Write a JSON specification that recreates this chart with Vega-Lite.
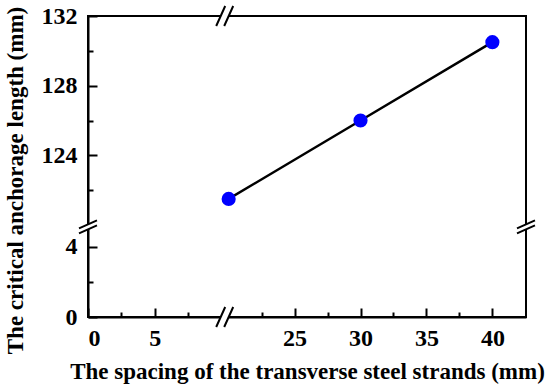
{
  "$schema": "https://vega.github.io/schema/vega-lite/v6.json",
  "width": 438,
  "height": 301,
  "autosize": "none",
  "padding": {"left": 88, "top": 16, "right": 24, "bottom": 74},
  "config": {
    "view": {"stroke": "black", "strokeWidth": 2},
    "axis": {
      "grid": false,
      "domainColor": "black",
      "domainWidth": 2,
      "tickColor": "black",
      "tickWidth": 2,
      "labelFont": "Liberation Serif",
      "labelFontWeight": "bold",
      "labelFontSize": 24,
      "labelColor": "black",
      "titleFont": "Liberation Serif",
      "titleFontWeight": "bold",
      "titleFontSize": 23,
      "titleColor": "black"
    }
  },
  "datasets": {
    "pts": [
      {"spacing": 20, "length": 121.5},
      {"spacing": 30, "length": 126.0},
      {"spacing": 40, "length": 130.5}
    ],
    "hbreaks": [{"bx": 15, "by": 0}, {"bx": 15, "by": 132}],
    "vbreaks": [{"bx": 0, "by": 60}, {"bx": 42.55, "by": 60}]
  },
  "resolve": {"axis": {"x": "independent", "y": "independent"}},
  "layer": [
    {
      "data": {"name": "pts"},
      "mark": {"type": "line", "color": "black", "strokeWidth": 2.5},
      "encoding": {
        "x": {
          "field": "spacing", "type": "quantitative",
          "scale": {"domain": [0, 10.25, 19.7, 42.55], "range": [0, 136.7, 136.7, 438], "nice": false, "zero": false},
          "axis": {"orient": "bottom", "values": [0, 5, 25, 30, 35, 40], "tickSize": -9, "labelPadding": 18, "title": "The spacing of the transverse steel strands (mm)", "titlePadding": 10}
        },
        "y": {
          "field": "length", "type": "quantitative",
          "scale": {"domain": [0, 5.15, 119.9, 132], "range": [301, 210.8, 210.8, 0], "nice": false, "zero": false},
          "axis": {"orient": "left", "values": [0, 4, 124, 128, 132], "tickSize": -9, "labelPadding": 20, "title": "The critical anchorage length (mm)", "titlePadding": 14, "titleY": 164}
        }
      }
    },
    {
      "data": {"name": "pts"},
      "mark": {"type": "circle", "color": "#0000ff", "opacity": 1, "size": 200},
      "encoding": {
        "x": {
          "field": "spacing", "type": "quantitative",
          "axis": {"orient": "bottom", "values": [2.5, 7.5, 22.5, 27.5, 32.5, 37.5], "tickSize": -5, "labels": false, "domain": false, "title": null}
        },
        "y": {
          "field": "length", "type": "quantitative",
          "axis": {"orient": "left", "values": [2, 122, 126, 130], "tickSize": -5, "labels": false, "domain": false, "title": null}
        }
      }
    },
    {
      "data": {"name": "hbreaks"},
      "mark": {"type": "point", "shape": "M-0.85,1L0.05,-1L0.85,-1L-0.05,1Z", "size": 400, "filled": true, "fill": "white", "strokeWidth": 0, "opacity": 1},
      "encoding": {
        "x": {"field": "bx", "type": "quantitative", "axis": null},
        "y": {"field": "by", "type": "quantitative", "axis": null}
      }
    },
    {
      "data": {"name": "hbreaks"},
      "mark": {"type": "point", "shape": "M-0.85,1L0.05,-1M-0.05,1L0.85,-1", "size": 400, "filled": false, "stroke": "black", "strokeWidth": 2, "opacity": 1},
      "encoding": {
        "x": {"field": "bx", "type": "quantitative", "axis": null},
        "y": {"field": "by", "type": "quantitative", "axis": null}
      }
    },
    {
      "data": {"name": "vbreaks"},
      "mark": {"type": "point", "shape": "M-0.9,0.15L0.9,-0.65L0.9,-0.15L-0.9,0.65Z", "size": 400, "filled": true, "fill": "white", "strokeWidth": 0, "opacity": 1},
      "encoding": {
        "x": {"field": "bx", "type": "quantitative", "axis": null},
        "y": {"field": "by", "type": "quantitative", "axis": null}
      }
    },
    {
      "data": {"name": "vbreaks"},
      "mark": {"type": "point", "shape": "M-0.9,0.15L0.9,-0.65M-0.9,0.65L0.9,-0.15", "size": 400, "filled": false, "stroke": "black", "strokeWidth": 2, "opacity": 1},
      "encoding": {
        "x": {"field": "bx", "type": "quantitative", "axis": null},
        "y": {"field": "by", "type": "quantitative", "axis": null}
      }
    }
  ]
}
